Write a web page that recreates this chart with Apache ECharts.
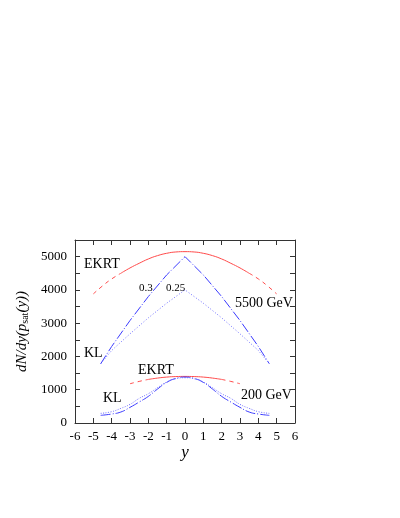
<!DOCTYPE html>
<html>
<head>
<meta charset="utf-8">
<script src="https://cdn.jsdelivr.net/npm/echarts@6/dist/echarts.min.js"></script>
<style>
  html, body { margin: 0; padding: 0; background: #fff; }
  #main { width: 400px; height: 518px; }
</style>
</head>
<body>
<div id="main"></div>
<script>
  // EKRT, 5500 GeV
  var ekrtHiX = [-5, -4.5, -4, -3.5, -3, -2.5, -2, -1.5, -1, -0.5, 0, 0.5, 1, 1.5, 2, 2.5, 3, 3.5, 4, 4.5, 5];
  var ekrtHiY = [3880, 4120, 4330, 4500, 4660, 4800, 4930, 5030, 5100, 5140, 5150, 5140, 5100, 5030, 4930, 4800, 4660, 4500, 4330, 4120, 3880];
  // EKRT, 200 GeV
  var ekrtLoX = [-3, -2.5, -2, -1.5, -1, -0.5, 0, 0.5, 1, 1.5, 2, 2.5, 3];
  var ekrtLoY = [1180, 1250, 1310, 1350, 1380, 1395, 1400, 1395, 1380, 1350, 1310, 1250, 1180];
  // KL, 5500 GeV (0.3 and 0.25)
  var klHiX = [-4.6, -4, -3, -2, -1, 0, 1, 2, 3, 4, 4.6];
  var klHi03 = [1780, 2300, 3080, 3800, 4450, 5000, 4450, 3800, 3080, 2300, 1780];
  var klHi025 = [1780, 2180, 2680, 3160, 3600, 4000, 3600, 3160, 2680, 2180, 1780];
  // KL, 200 GeV
  var klLoX = [-4.6, -4, -3.5, -3, -2.5, -2, -1.5, -1, -0.5, 0, 0.5, 1, 1.5, 2, 2.5, 3, 3.5, 4, 4.6];
  var klLo03 = [230, 270, 330, 470, 630, 800, 1020, 1220, 1340, 1380, 1340, 1220, 1020, 800, 630, 470, 330, 270, 230];
  var klLo025 = [290, 340, 440, 560, 740, 880, 1060, 1230, 1330, 1360, 1330, 1230, 1060, 880, 740, 560, 440, 340, 290];

  var serif = 'Liberation Serif';
  var red = '#ff4a4a', blue = '#3a3aff', lightBlue = '#7070ff';

  function pairs(xs, ys, keep) {
    var out = [];
    for (var i = 0; i < xs.length; i++) {
      if (!keep || keep(xs[i])) out.push([xs[i], ys[i]]);
    }
    return out;
  }

  function line(data, color, type, smooth) {
    return {
      type: 'line', data: data, showSymbol: false, smooth: smooth || false,
      lineStyle: { color: color, width: 1, type: type }, z: 3, silent: true
    };
  }

  var chart = echarts.init(document.getElementById('main'));
  var axisLine = { show: true, onZero: false, lineStyle: { color: '#333', width: 1 } };
  var tick = { inside: true, length: 5, lineStyle: { color: '#333' } };
  var option = {
    animation: false,
    grid: { left: 75, right: 105, top: 240, bottom: 95 },
    xAxis: [
      {
        type: 'value', min: -6, max: 6, interval: 1,
        axisLine: axisLine, axisTick: tick, splitLine: { show: false },
        axisLabel: { color: '#000', fontFamily: serif, fontSize: 13, margin: 7 },
        name: 'y', nameLocation: 'middle', nameGap: 20,
        nameTextStyle: { color: '#000', fontFamily: serif, fontSize: 17, fontStyle: 'italic' }
      },
      {
        type: 'value', position: 'top', min: -6, max: 6, interval: 1,
        axisLine: axisLine, axisTick: tick,
        axisLabel: { show: false }, splitLine: { show: false }
      }
    ],
    yAxis: [
      {
        type: 'value', min: 0, max: 5500, interval: 500,
        axisLine: axisLine, axisTick: tick, splitLine: { show: false },
        axisLabel: {
          color: '#000', fontFamily: serif, fontSize: 13, margin: 8,
          formatter: function (v) { return v % 1000 === 0 ? String(v) : ''; }
        },
        name: '{i|dN/dy(p}{s|sat}{i|(y))}', nameLocation: 'middle', nameGap: 26, nameRotate: 90,
        nameTextStyle: {
          rich: {
            i: { fontFamily: serif, fontSize: 15, fontStyle: 'italic', color: '#000' },
            s: { fontFamily: serif, fontSize: 10, color: '#000', padding: [6, 0, 0, 0] }
          }
        }
      },
      {
        type: 'value', position: 'right', min: 0, max: 5500, interval: 500,
        axisLine: axisLine, axisTick: tick,
        axisLabel: { show: false }, splitLine: { show: false }
      }
    ],
    series: [
      line(pairs(ekrtHiX, ekrtHiY, function (x) { return Math.abs(x) <= 3.5; }), red, 'solid', true),
      line(pairs(ekrtHiX, ekrtHiY, function (x) { return x <= -3.5; }), red, [4, 4], true),
      line(pairs(ekrtHiX, ekrtHiY, function (x) { return x >= 3.5; }), red, [4, 4], true),
      line(pairs(ekrtLoX, ekrtLoY, function (x) { return Math.abs(x) <= 2; }), red, 'solid', true),
      line(pairs(ekrtLoX, ekrtLoY, function (x) { return x <= -2; }), red, [4, 4], true),
      line(pairs(ekrtLoX, ekrtLoY, function (x) { return x >= 2; }), red, [4, 4], true),
      line(pairs(klHiX, klHi03), blue, [10, 2, 1, 2], false),
      line(pairs(klHiX, klHi025), lightBlue, [1, 2], false),
      line(pairs(klLoX, klLo03), blue, [10, 2, 1, 2], true),
      line(pairs(klLoX, klLo025), lightBlue, [1, 1.5], true)
    ],
    graphic: [
      { type: 'text', x: 84, y: 257, style: { text: 'EKRT', font: '14px ' + serif, fill: '#000' } },
      { type: 'text', x: 139, y: 283, style: { text: '0.3', font: '11px ' + serif, fill: '#000' } },
      { type: 'text', x: 166, y: 283, style: { text: '0.25', font: '11px ' + serif, fill: '#000' } },
      { type: 'text', x: 235, y: 296, style: { text: '5500 GeV', font: '14px ' + serif, fill: '#000' } },
      { type: 'text', x: 84, y: 346, style: { text: 'KL', font: '14px ' + serif, fill: '#000' } },
      { type: 'text', x: 138, y: 363, style: { text: 'EKRT', font: '14px ' + serif, fill: '#000' } },
      { type: 'text', x: 241, y: 388, style: { text: '200 GeV', font: '14px ' + serif, fill: '#000' } },
      { type: 'text', x: 103, y: 391, style: { text: 'KL', font: '14px ' + serif, fill: '#000' } }
    ]
  };
  chart.setOption(option);
</script>
</body>
</html>
